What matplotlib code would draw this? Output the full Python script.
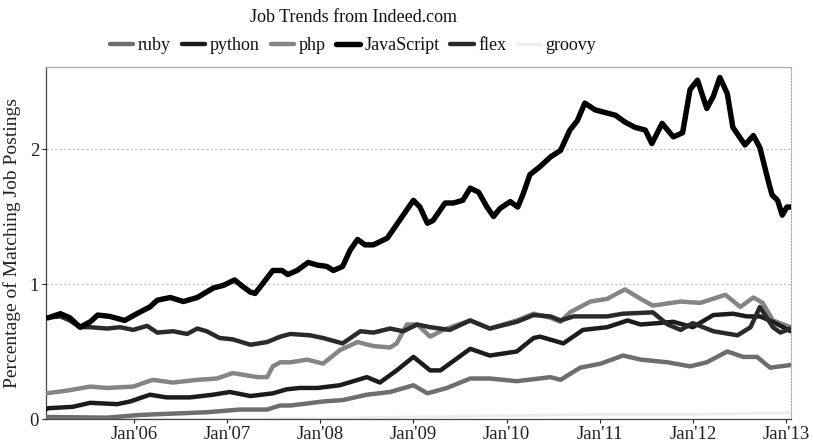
import matplotlib
matplotlib.use("Agg")
import matplotlib.pyplot as plt

plt.rcParams['font.family'] = ['Liberation Serif', 'DejaVu Serif']

# ---- data (decimal years, % of job postings) ----
js_x = [2005.05, 2005.08, 2005.21, 2005.31, 2005.42, 2005.53, 2005.61, 2005.74, 2005.90, 2006.03,
        2006.17, 2006.25, 2006.39, 2006.53, 2006.68, 2006.85, 2006.96, 2007.08, 2007.17, 2007.25,
        2007.30, 2007.39, 2007.49, 2007.59, 2007.65, 2007.75, 2007.87, 2007.97, 2008.07, 2008.14,
        2008.24, 2008.32, 2008.40, 2008.48, 2008.57, 2008.72, 2008.82, 2008.93, 2009.00, 2009.07,
        2009.15, 2009.21, 2009.34, 2009.43, 2009.53, 2009.61, 2009.70, 2009.79, 2009.86, 2009.93,
        2010.04, 2010.12, 2010.18, 2010.25, 2010.36, 2010.47, 2010.58, 2010.68, 2010.76, 2010.84,
        2010.95, 2011.06, 2011.17, 2011.27, 2011.38, 2011.49, 2011.56, 2011.67, 2011.79, 2011.89,
        2011.97, 2012.05, 2012.15, 2012.22, 2012.29, 2012.37, 2012.43, 2012.56, 2012.65, 2012.72,
        2012.80, 2012.85, 2012.91, 2012.96, 2013.01, 2013.05]
js_y = [0.75, 0.75, 0.78, 0.75, 0.68, 0.72, 0.77, 0.76, 0.73, 0.78,
        0.83, 0.88, 0.90, 0.87, 0.90, 0.97, 0.99, 1.03, 0.98, 0.94,
        0.93, 1.01, 1.10, 1.10, 1.07, 1.10, 1.16, 1.14, 1.13, 1.10,
        1.13, 1.25, 1.33, 1.29, 1.29, 1.34, 1.44, 1.55, 1.62, 1.57,
        1.45, 1.47, 1.60, 1.60, 1.62, 1.71, 1.68, 1.57, 1.50, 1.56,
        1.61, 1.57, 1.67, 1.81, 1.87, 1.94, 1.99, 2.14, 2.21, 2.34,
        2.29, 2.27, 2.25, 2.20, 2.16, 2.14, 2.04, 2.19, 2.09, 2.12,
        2.44, 2.51, 2.30, 2.39, 2.53, 2.41, 2.16, 2.03, 2.10, 2.01,
        1.79, 1.66, 1.62, 1.51, 1.57, 1.57]

flex_x = [2005.05, 2005.21, 2005.31, 2005.42, 2005.53, 2005.71, 2005.85, 2005.99, 2006.14, 2006.25,
          2006.42, 2006.57, 2006.68, 2006.78, 2006.92, 2007.06, 2007.25, 2007.43, 2007.57, 2007.68,
          2007.89, 2008.03, 2008.24, 2008.43, 2008.57, 2008.75, 2008.89, 2009.04, 2009.18, 2009.39,
          2009.61, 2009.82, 2010.11, 2010.29, 2010.47, 2010.58, 2010.72, 2011.08, 2011.25, 2011.57,
          2011.73, 2011.87, 2012.00, 2012.22, 2012.48, 2012.62, 2012.72, 2012.86, 2012.94, 2013.05]
flex_y = [0.75, 0.76, 0.73, 0.68, 0.68, 0.67, 0.68, 0.66, 0.69, 0.64,
          0.65, 0.63, 0.67, 0.65, 0.60, 0.59, 0.55, 0.57, 0.61, 0.63,
          0.62, 0.60, 0.56, 0.65, 0.64, 0.67, 0.65, 0.70, 0.68, 0.66,
          0.73, 0.67, 0.72, 0.77, 0.76, 0.73, 0.76, 0.76, 0.78, 0.79,
          0.70, 0.66, 0.71, 0.65, 0.62, 0.68, 0.83, 0.68, 0.64, 0.67]

php_x = [2005.05, 2005.28, 2005.53, 2005.71, 2005.99, 2006.20, 2006.42, 2006.68, 2006.89, 2007.06,
         2007.33, 2007.43, 2007.49, 2007.57, 2007.68, 2007.86, 2008.03, 2008.21, 2008.40, 2008.57,
         2008.75, 2008.82, 2008.93, 2009.04, 2009.18, 2009.32, 2009.61, 2009.82, 2010.11, 2010.29,
         2010.47, 2010.58, 2010.68, 2010.90, 2011.08, 2011.27, 2011.44, 2011.57, 2011.87, 2012.08,
         2012.35, 2012.51, 2012.65, 2012.75, 2012.86, 2013.05]
php_y = [0.19, 0.21, 0.24, 0.23, 0.24, 0.29, 0.27, 0.29, 0.30, 0.34,
         0.31, 0.31, 0.39, 0.42, 0.42, 0.44, 0.41, 0.51, 0.57, 0.54,
         0.53, 0.56, 0.70, 0.70, 0.61, 0.66, 0.73, 0.67, 0.73, 0.78,
         0.75, 0.72, 0.79, 0.87, 0.89, 0.96, 0.89, 0.84, 0.87, 0.86,
         0.92, 0.83, 0.90, 0.86, 0.73, 0.68]

python_x = [2005.05, 2005.08, 2005.34, 2005.53, 2005.82, 2005.96, 2006.17, 2006.35, 2006.60, 2006.85,
            2007.03, 2007.25, 2007.49, 2007.64, 2007.78, 2007.97, 2008.21, 2008.50, 2008.64, 2008.82,
            2009.00, 2009.18, 2009.29, 2009.61, 2009.82, 2010.11, 2010.29, 2010.36, 2010.61, 2010.82,
            2011.08, 2011.30, 2011.44, 2011.62, 2011.79, 2012.00, 2012.22, 2012.43, 2012.58, 2012.72,
            2012.86, 2013.05]
python_y = [0.07, 0.08, 0.09, 0.12, 0.11, 0.13, 0.18, 0.16, 0.16, 0.18,
            0.20, 0.17, 0.19, 0.22, 0.23, 0.23, 0.25, 0.31, 0.27, 0.36,
            0.46, 0.36, 0.36, 0.52, 0.47, 0.50, 0.60, 0.61, 0.56, 0.66,
            0.68, 0.73, 0.70, 0.71, 0.72, 0.68, 0.77, 0.78, 0.76, 0.76,
            0.72, 0.65]

ruby_x = [2005.05, 2005.71, 2006.06, 2006.42, 2006.78, 2007.14, 2007.43, 2007.57, 2007.68, 2007.80,
          2008.03, 2008.24, 2008.50, 2008.75, 2009.00, 2009.15, 2009.36, 2009.61, 2009.82, 2010.11,
          2010.47, 2010.58, 2010.79, 2011.01, 2011.25, 2011.44, 2011.73, 2011.97, 2012.15, 2012.37,
          2012.54, 2012.69, 2012.83, 2013.05]
ruby_y = [0.015, 0.01, 0.03, 0.04, 0.05, 0.07, 0.07, 0.10, 0.10, 0.11,
          0.13, 0.14, 0.18, 0.20, 0.25, 0.19, 0.23, 0.30, 0.30, 0.28,
          0.31, 0.29, 0.38, 0.41, 0.47, 0.44, 0.42, 0.39, 0.42, 0.50,
          0.46, 0.46, 0.38, 0.40]

groovy_x = [2005.05, 2007.00, 2008.00, 2009.00, 2010.00, 2011.00, 2012.00, 2013.05]
groovy_y = [0.0, 0.0, 0.005, 0.015, 0.025, 0.035, 0.035, 0.045]

series_names = ["ruby", "python", "php", "JavaScript", "flex", "groovy"]
tick_years = [2006, 2007, 2008, 2009, 2010, 2011, 2012, 2013]
tick_labels = ["Jan'06", "Jan'07", "Jan'08", "Jan'09", "Jan'10", "Jan'11", "Jan'12", "Jan'13"]

# ---- figure ----
fig = plt.figure(figsize=(8.13, 4.46), dpi=100)
ax = fig.add_axes([46/813, 1-419/446, (791-46)/813, (419-67)/446])

styles = {
    "ruby":       dict(color="#6e6e6e", lw=3.2, zorder=3),
    "python":     dict(color="#1c1c1c", lw=3.2, zorder=4),
    "php":        dict(color="#858585", lw=3.2, zorder=3.5),
    "JavaScript": dict(color="#000000", lw=3.9, zorder=6),
    "flex":       dict(color="#2a2a2a", lw=3.2, zorder=5),
    "groovy":     dict(color="#ededed", lw=2.0, zorder=2),
}
data = {
    "ruby": (ruby_x, ruby_y),
    "python": (python_x, python_y),
    "php": (php_x, php_y),
    "JavaScript": (js_x, js_y),
    "flex": (flex_x, flex_y),
    "groovy": (groovy_x, groovy_y),
}
handles = []
for name in series_names:
    xs, ys = data[name]
    st = styles[name]
    h, = ax.plot(xs, ys, color=st["color"], lw=st["lw"], zorder=st["zorder"],
                 solid_joinstyle="round", solid_capstyle="round", label=name)
    handles.append(h)

ax.set_xlim(2005.055, 2013.054)
ax.set_ylim(0, (419-67)/135)
ax.set_xticks(tick_years)
ax.set_xticklabels(tick_labels)
ax.set_yticks([0, 1, 2])
ax.set_yticklabels(["0", "1", "2"])
ax.tick_params(axis='both', labelsize=13.5, colors="#222", length=3, width=0.8, pad=2)
ax.yaxis.grid(True, linestyle=(0, (1.5, 2.5)), color="#b0b0b0", lw=0.8)
ax.set_axisbelow(True)
ax.set_ylabel("Percentage of Matching Job Postings", fontsize=14, color="#222", labelpad=6)

for side, c in [("left", "#444"), ("bottom", "#444"), ("top", "#aaaaaa")]:
    ax.spines[side].set_color(c)
    ax.spines[side].set_linewidth(0.9)
ax.spines["right"].set_color("#aaaaaa")
ax.spines["right"].set_linestyle((0, (1.5, 1.5)))
ax.spines["right"].set_linewidth(0.8)

fig.text(353/813, 1-17/446, "Job Trends from Indeed.com", ha="center", va="center",
         fontsize=13, color="#111")
fig.legend(handles=handles, labels=series_names, loc="center", ncol=6,
           bbox_to_anchor=(353/813, 1-46/446), frameon=False, fontsize=13,
           handlelength=1.3, handletextpad=0.25, columnspacing=0.6,
           labelcolor="#111")

fig.savefig("out.png", dpi=100)
